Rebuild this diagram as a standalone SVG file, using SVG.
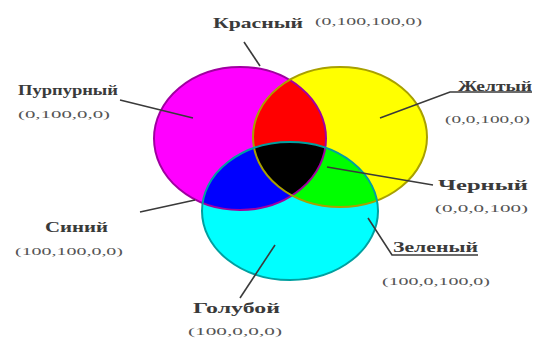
<svg xmlns="http://www.w3.org/2000/svg" width="539" height="347" viewBox="0 0 539 347">
<style>
.lbl{font-family:"Liberation Serif","Times New Roman",serif;font-size:15px;font-weight:bold;fill:#3a3a3a}
.val{font-family:"Liberation Serif","Times New Roman",serif;font-size:10px;fill:#555}
.lead{stroke:#3a3a3a;stroke-width:1.6;fill:none}
.edge{fill:none;stroke-width:2}
</style>
<defs>
<clipPath id="cM"><ellipse cx="240" cy="138.5" rx="86" ry="71.5"/></clipPath>
<clipPath id="cY"><ellipse cx="340" cy="137" rx="87" ry="70"/></clipPath>
</defs>
<rect width="539" height="347" fill="#fff"/>
<g id="circles">
<ellipse cx="240" cy="138.5" rx="86" ry="71.5" fill="#ff00ff"/>
<ellipse cx="340" cy="137" rx="87" ry="70" fill="#ffff00"/>
<ellipse cx="290" cy="211" rx="88" ry="69" fill="#00ffff"/>
<ellipse cx="340" cy="137" rx="87" ry="70" fill="#ff0000" clip-path="url(#cM)"/>
<ellipse cx="290" cy="211" rx="88" ry="69" fill="#0000ff" clip-path="url(#cM)"/>
<ellipse cx="290" cy="211" rx="88" ry="69" fill="#00ff00" clip-path="url(#cY)"/>
<g clip-path="url(#cM)"><ellipse cx="290" cy="211" rx="88" ry="69" fill="#000" clip-path="url(#cY)"/></g>
<ellipse class="edge" cx="240" cy="138.5" rx="86" ry="71.5" stroke="#a000a0"/>
<ellipse class="edge" cx="340" cy="137" rx="87" ry="70" stroke="#a8a000"/>
<ellipse class="edge" cx="290" cy="211" rx="88" ry="69" stroke="#00a0a0"/>
</g>
<g id="connectors">
<line class="lead" x1="244" y1="42" x2="260" y2="66"/>
<line class="lead" x1="120" y1="100" x2="193" y2="118"/>
<polyline class="lead" points="380,118 450,92 532,92"/>
<line class="lead" x1="327" y1="167" x2="433" y2="185"/>
<polyline class="lead" points="368,218 392,255 478,255"/>
<line class="lead" x1="140" y1="212" x2="195" y2="200"/>
<line class="lead" x1="275" y1="245" x2="240" y2="298"/>
</g>
<g id="red"><text class="lbl" x="213" y="28" textLength="90" lengthAdjust="spacingAndGlyphs">Красный</text><text class="val" x="315" y="25" textLength="107" lengthAdjust="spacingAndGlyphs">(0,100,100,0)</text></g>
<g id="magenta"><text class="lbl" x="18" y="95" font-size="12" textLength="100" lengthAdjust="spacingAndGlyphs">Пурпурный</text><text class="val" x="18" y="118" textLength="92" lengthAdjust="spacingAndGlyphs">(0,100,0,0)</text></g>
<g id="yellow"><text class="lbl" x="458" y="91" textLength="74" lengthAdjust="spacingAndGlyphs">Желтый</text><text class="val" x="445" y="123" textLength="85" lengthAdjust="spacingAndGlyphs">(0,0,100,0)</text></g>
<g id="black"><text class="lbl" x="438" y="190" textLength="90" lengthAdjust="spacingAndGlyphs">Черный</text><text class="val" x="435" y="212" textLength="93" lengthAdjust="spacingAndGlyphs">(0,0,0,100)</text></g>
<g id="green"><text class="lbl" x="393" y="252" textLength="85" lengthAdjust="spacingAndGlyphs">Зеленый</text><text class="val" x="382" y="285" textLength="108" lengthAdjust="spacingAndGlyphs">(100,0,100,0)</text></g>
<g id="blue"><text class="lbl" x="45" y="232" textLength="63" lengthAdjust="spacingAndGlyphs">Синий</text><text class="val" x="15" y="255" textLength="108" lengthAdjust="spacingAndGlyphs">(100,100,0,0)</text></g>
<g id="cyan"><text class="lbl" x="193" y="313" textLength="87" lengthAdjust="spacingAndGlyphs">Голубой</text><text class="val" x="188" y="335" textLength="94" lengthAdjust="spacingAndGlyphs">(100,0,0,0)</text></g>
</svg>
